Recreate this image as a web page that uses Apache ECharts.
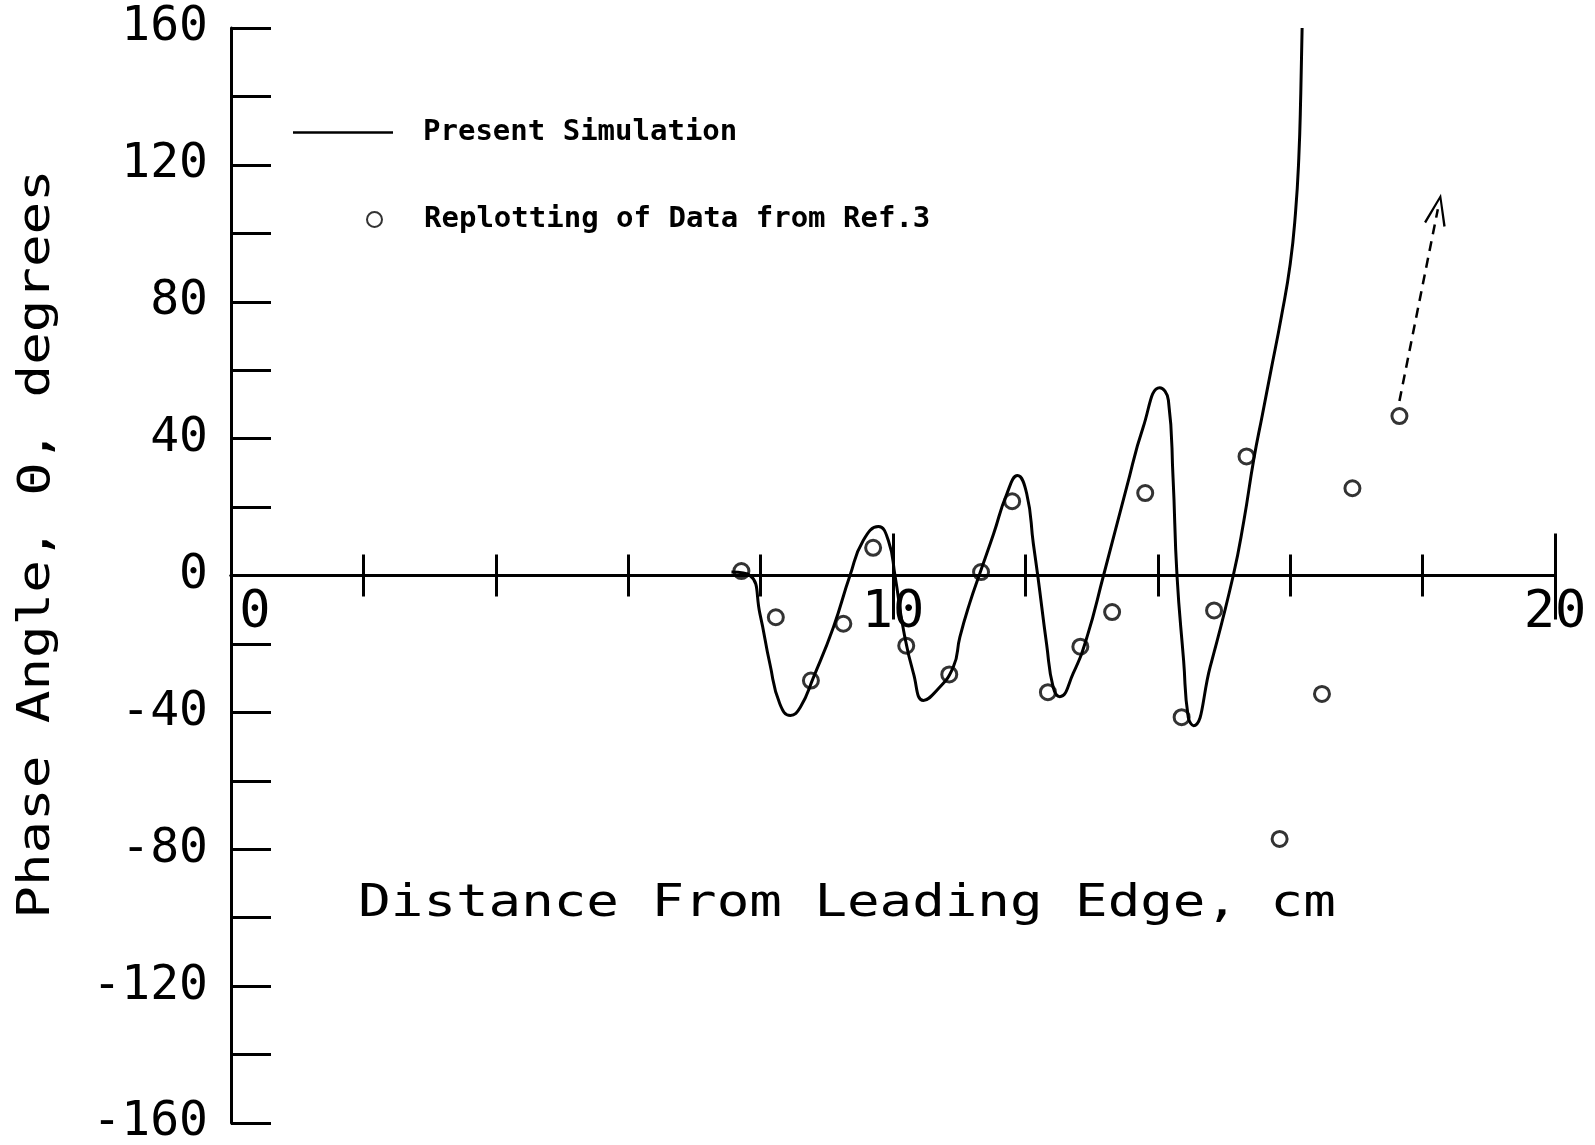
<!DOCTYPE html>
<html>
<head>
<meta charset="utf-8">
<script src="https://cdn.jsdelivr.net/npm/echarts@6/dist/echarts.min.js"></script>
<style>html,body{margin:0;padding:0;background:#fff}#c{width:1595px;height:1145px}</style>
</head>
<body>
<div id="c"></div>
<script>
// ---- data ----
const simX = [7.56, 7.84, 7.99, 8.14, 8.29, 8.45, 8.60, 8.80, 9.10, 9.35, 9.55, 9.78, 9.93, 10.03, 10.16, 10.31, 10.46, 10.66, 10.91, 11.01, 11.16, 11.31, 11.52, 11.72, 11.88, 12.02, 12.12, 12.19, 12.32, 12.42, 12.52, 12.72, 12.93, 13.18, 13.53, 13.78, 14.03, 14.16, 14.23, 14.29, 14.39, 14.46, 14.54, 14.79, 15.14, 15.30, 15.45, 15.58, 15.70, 15.87, 16.00, 16.08, 16.13, 16.16, 16.18];
const simY = [1, 0, -11.2, -25.8, -37.5, -40.9, -38.5, -29.7, -15.1, 0, 10.2, 14.3, 10.2, 0, -16.1, -28.7, -36.5, -33.6, -26.8, -18, -8, 0.5, 12.2, 23.9, 29.2, 23.9, 9.3, -0.5, -20, -32.7, -35.4, -28.7, -18, 0, 25.8, 43.4, 54.9, 51.2, 28.7, 0, -24.9, -41.4, -43.9, -26.8, 0, 16, 34, 47, 59, 76, 91, 106, 122, 141, 160];
const refX = [7.71, 8.23, 8.76, 9.25, 9.70, 10.20, 10.85, 11.33, 11.80, 12.34, 12.83, 13.31, 13.81, 14.36, 14.85, 15.34, 15.84, 16.48, 16.94, 17.65];
const refY = [1.3, -12.2, -30.7, -14.1, 8.1, -20.5, -28.9, 1.0, 21.7, -34.1, -20.8, -10.7, 24.1, -41.4, -10.2, 34.8, -77.0, -34.6, 25.5, 46.6];
const arrowStart = [17.65, 51];
const arrowEnd = [18.23, 107];
const xTickLabels = [0, 10, 20];
const yTickLabels = [-160, -120, -80, -40, 0, 40, 80, 120, 160];
const seriesNames = ['Present Simulation', 'Replotting of Data from Ref.3'];
const xTitle = 'Distance From Leading Edge, cm';
const yTitle = 'Phase Angle, \u0398, degrees';

const FONT = 'DejaVu Sans Mono';
const chart = echarts.init(document.getElementById('c'));
const tickStyle = {color: '#000', width: 3};
const gridLR = {left: 231, right: 40};
const option = {
  animation: false,
  backgroundColor: '#fff',
  grid: [
    Object.assign({top: 28, bottom: 22, containLabel: false, outerBoundsMode: 'none'}, gridLR),
    // thin helper grid whose bottom edge sits on the zero line; carries the x tick labels
    Object.assign({top: 574, height: 1, containLabel: false, outerBoundsMode: 'none'}, gridLR)
  ],
  xAxis: [
    {
      gridIndex: 0, type: 'value', min: 0, max: 20, interval: 10, position: 'bottom',
      axisLine: {onZero: true, onZeroAxisIndex: 0, lineStyle: tickStyle},
      axisTick: {show: true, length: 44, lineStyle: tickStyle},
      minorTick: {show: true, splitNumber: 5, length: 21, lineStyle: tickStyle},
      splitLine: {show: false}, minorSplitLine: {show: false},
      axisLabel: {show: false}
    },
    {
      gridIndex: 0, type: 'value', min: 0, max: 20, interval: 10, position: 'top',
      axisLine: {onZero: true, onZeroAxisIndex: 0, lineStyle: tickStyle},
      axisTick: {show: true, length: 42, lineStyle: tickStyle},
      minorTick: {show: true, splitNumber: 5, length: 21, lineStyle: tickStyle},
      splitLine: {show: false}, minorSplitLine: {show: false},
      axisLabel: {show: false}
    },
    {
      gridIndex: 1, type: 'value', min: 0, max: 20, interval: 10, position: 'bottom',
      axisLine: {show: false}, axisTick: {show: false}, splitLine: {show: false},
      axisLabel: {
        margin: 12, color: '#000', fontFamily: FONT, fontSize: 52,
        formatter: v => xTickLabels.includes(v) ? (v === 0 ? '{z|0}' : String(v)) : '',
        rich: {z: {fontFamily: FONT, fontSize: 52, color: '#000', padding: [0, 0, 0, 48]}}
      }
    }
  ],
  yAxis: [
    {
      gridIndex: 0, type: 'value', min: -160, max: 160, interval: 20,
      axisLine: {onZero: false, lineStyle: tickStyle},
      axisTick: {show: true, inside: true, length: 40, lineStyle: tickStyle},
      splitLine: {show: false},
      axisLabel: {
        margin: 23, color: '#000', fontFamily: FONT, fontSize: 48,
        formatter: v => yTickLabels.includes(v) ? String(v) : ''
      }
    },
    {gridIndex: 1, type: 'value', min: 0, max: 1, show: false}
  ],
  legend: [
    {
      data: [{name: seriesNames[0], icon: 'path://M0,0 L100,0 L100,2.5 L0,2.5 Z'}],
      left: 293, top: 118, padding: 0, itemWidth: 100, itemHeight: 30,
      selectedMode: false, itemStyle: {color: '#000'},
      textStyle: {fontFamily: FONT, fontWeight: 'bold', fontSize: 29, color: '#000', padding: [0, 0, 0, 25]}
    },
    {
      data: [seriesNames[1]], left: 366, top: 205, padding: 0, itemWidth: 15, itemHeight: 15,
      selectedMode: false,
      textStyle: {fontFamily: FONT, fontWeight: 'bold', fontSize: 29, color: '#000', padding: [0, 0, 0, 37]}
    }
  ],
  graphic: [
    {type: 'text', x: 37.5, y: 544, rotation: Math.PI / 2, scaleX: 1.23,
     style: {text: yTitle, font: '44px "' + FONT + '"', fill: '#000', align: 'center', verticalAlign: 'middle'}},
    {type: 'text', x: 847, y: 905, scaleX: 1.23,
     style: {text: xTitle, font: '44px "' + FONT + '"', fill: '#000', align: 'center', verticalAlign: 'middle'}}
  ],
  series: [
    {
      name: seriesNames[0], type: 'line', xAxisIndex: 0, yAxisIndex: 0,
      data: simX.map((x, i) => [x, simY[i]]),
      smooth: 0.5, symbol: 'none', clip: true,
      lineStyle: {color: '#000', width: 3},
      itemStyle: {color: '#000'}, z: 3
    },
    {
      name: seriesNames[1], type: 'scatter', xAxisIndex: 0, yAxisIndex: 0,
      data: refX.map((x, i) => [x, refY[i]]),
      symbol: 'circle', symbolSize: 15,
      itemStyle: {color: 'rgba(255,255,255,0)', borderColor: '#000', borderWidth: 3},
      z: 4,
      markLine: {
        silent: true, animation: false,
        symbol: ['none', 'path://M10,0 L20,30 L18,31 L10,6 L2,31 L0,30 Z'],
        symbolSize: [22, 32],
        label: {show: false},
        lineStyle: {color: '#000', width: 2.5, type: [10, 7]},
        data: [[{coord: arrowStart}, {coord: arrowEnd}]]
      }
    }
  ]
};
chart.setOption(option);
</script>
</body>
</html>
